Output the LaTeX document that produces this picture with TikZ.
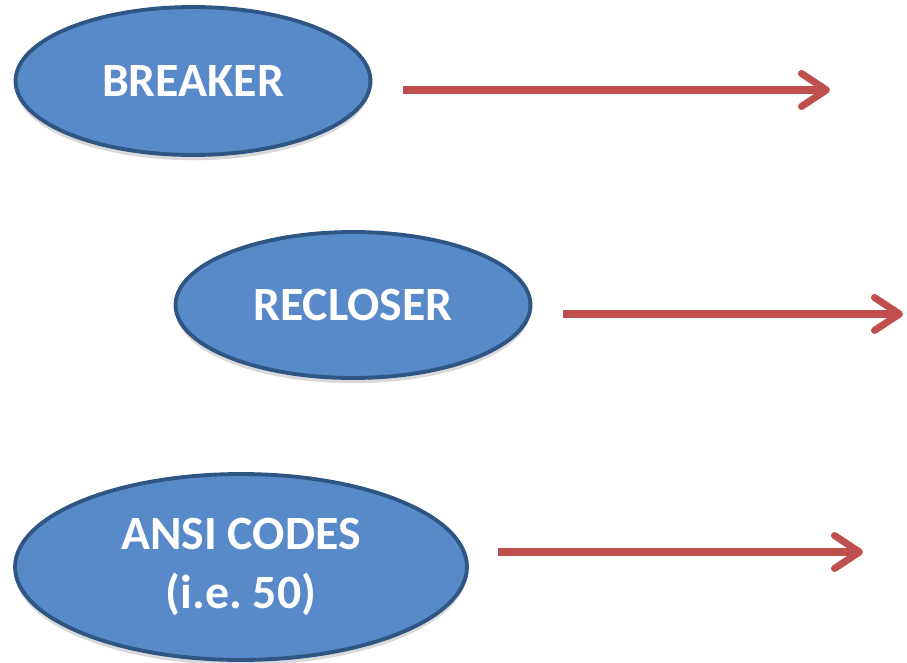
\documentclass[tikz,border=0pt]{standalone}
\usepackage{fontspec}
\setmainfont{Carlito}
\usepackage{tikz}
\usetikzlibrary{shapes,arrows.meta,shadows}
\definecolor{ovalfill}{HTML}{5889C8}
\definecolor{ovaledge}{HTML}{2E5584}
\definecolor{arrowred}{HTML}{C0504D}
\frenchspacing

\begin{document}
\begin{tikzpicture}[x=0.02cm,y=-0.02cm]
  \tikzstyle{oval}=[ellipse,draw=ovaledge,line width=2.2pt,fill=ovalfill,inner sep=0pt,
    text=white,font=\fontsize{27.2}{33.5}\selectfont\bfseries,align=center,
    drop shadow={shadow xshift=0pt,shadow yshift=-3pt,fill=black!25,opacity=0.6}]
  \tikzstyle{pointer}=[draw=arrowred,line width=4pt,line cap=butt,
    -{Straight Barb[round,length=0.5cm,width=0.66cm]}]
  \useasboundingbox (0,0) rectangle (907,663);
  \draw (0,0) coordinate (c);

  \draw (c)++(193,81) node[oval,minimum width=7.1cm,minimum height=2.96cm] (B){BREAKER};
  \draw (c)++(353,305) node[oval,minimum width=7.1cm,minimum height=2.92cm] (R){RECLOSER};
  \draw (c)++(241,567) node[oval,minimum width=9.04cm,minimum height=3.72cm] (A){ANSI CODES\\(i.e. 50)};

  \draw (c)++(403,90) coordinate (b1);
  \draw (c)++(830,90) coordinate (b2);
  \draw (c)++(563,314) coordinate (r1);
  \draw (c)++(903,314) coordinate (r2);
  \draw (c)++(498,552) coordinate (a1);
  \draw (c)++(863,552) coordinate (a2);

  \draw[pointer] (b1) -- (b2);
  \draw[pointer] (r1) -- (r2);
  \draw[pointer] (a1) -- (a2);
\end{tikzpicture}
\end{document}
